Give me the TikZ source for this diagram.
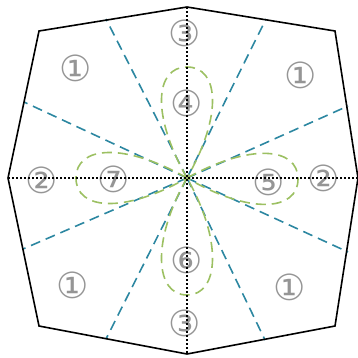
\documentclass[tikz,border=0pt]{standalone}
\usepackage{fontspec}
\newfontfamily\circfont{DejaVu Sans}
\definecolor{lobe}{HTML}{9CC062}
\definecolor{ray}{HTML}{2C87A1}
\definecolor{numgray}{HTML}{959595}
\begin{document}
\begin{tikzpicture}[x=1pt,y=-1pt,
  frame/.style={draw=black,line width=1.6pt,line join=miter},
  axisline/.style={draw=black,line width=1.8pt,dash pattern=on 1.8pt off 2.2pt},
  rayline/.style={draw=ray,line width=1.6pt,dash pattern=on 10pt off 6pt},
  lobeline/.style={draw=lobe,line width=1.6pt,dash pattern=on 10pt off 6pt},
  num/.style={text=numgray,font=\circfont\fontsize{36}{36}\selectfont,inner sep=0pt}]
\useasboundingbox (0,0) rectangle (358,357);
% octagon vertices
\coordinate (t) at (187,7);
\coordinate (tr) at (335,31);
\coordinate (r) at (358,178);
\coordinate (br) at (335,326);
\coordinate (b) at (187,354);
\coordinate (bl) at (39,326);
\coordinate (l) at (8,178);
\coordinate (tl) at (39,31);
\coordinate (c) at (187,178);
% labels
\node[num] (n1a) at (76,68) {①};
\node[num] (n1b) at (301,75) {①};
\node[num] (n1c) at (73,285) {①};
\node[num] (n1d) at (290,287) {①};
\node[num] (n3a) at (185,33) {③};
\node[num] (n3b) at (185,323) {③};
\node[num] (n4) at (187,103) {④};
\node[num] (n6) at (187,260) {⑥};
\node[num] (n2a) at (42,180) {②};
\node[num] (n2b) at (324,178) {②};
\node[num] (n7) at (114,179) {⑦};
\node[num] (n5) at (269,182) {⑤};
% rays
\coordinate (ra1) at (24,102);  \coordinate (rb1) at (348,252);
\coordinate (ra2) at (106,19);  \coordinate (rb2) at (265,340);
\coordinate (ra3) at (266,19);  \coordinate (rb3) at (106,339);
\coordinate (ra4) at (348,106); \coordinate (rb4) at (23,249);
\draw[rayline] (c) -- (ra1); \draw[rayline] (c) -- (rb1);
\draw[rayline] (c) -- (ra2); \draw[rayline] (c) -- (rb2);
\draw[rayline] (c) -- (ra3); \draw[rayline] (c) -- (rb3);
\draw[rayline] (c) -- (ra4); \draw[rayline] (c) -- (rb4);
% lobes
\draw[lobeline] (c) .. controls (151,115) and (155,67) .. (187,67) .. controls (219,67) and (223,115) .. (c);
\draw[lobeline] (c) .. controls (151,241) and (155,295) .. (187,295) .. controls (219,295) and (223,241) .. (c);
\draw[lobeline] (c) .. controls (124,142) and (76,146) .. (76,178) .. controls (76,210) and (124,214) .. (c);
\draw[lobeline] (c) .. controls (250,143) and (298,147) .. (298,179) .. controls (298,211) and (250,215) .. (c);
% axes
\draw[axisline] (l) -- (r);
\draw[axisline] (t) -- (b);
% frame
\draw[frame] (t) -- (tr) -- (r) -- (br) -- (b) -- (bl) -- (l) -- (tl) -- cycle;
\end{tikzpicture}
\end{document}
